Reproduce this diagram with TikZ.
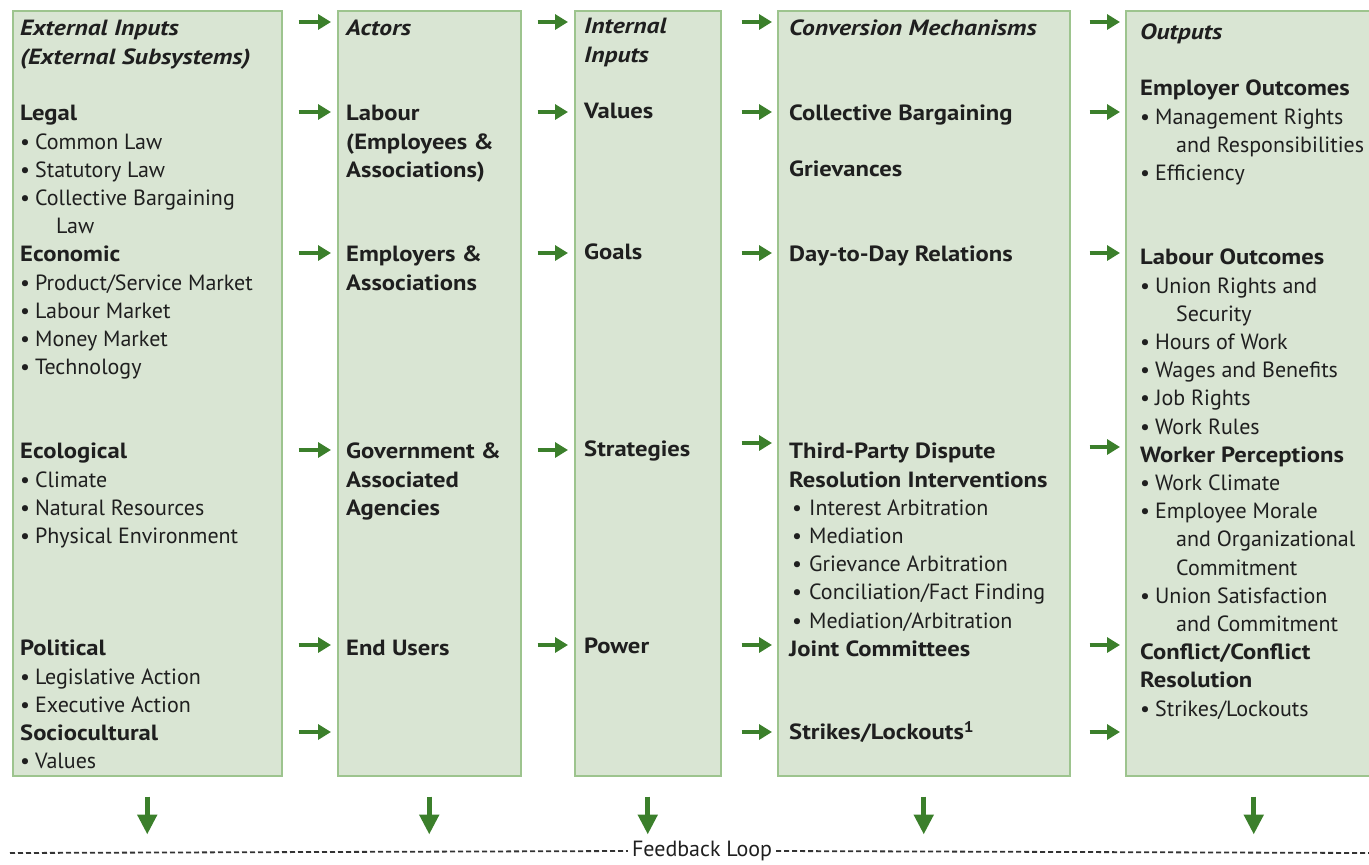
\documentclass[tikz,border=0pt]{standalone}
\usepackage{fontspec}
\setmainfont{PT Sans}[BoldFeatures={FakeStretch=1.12},BoldItalicFeatures={FakeStretch=1.16}]
\usetikzlibrary{arrows.meta,positioning}
\usepackage{xcolor}

\definecolor{boxfill}{HTML}{D9E5D3}
\definecolor{boxline}{HTML}{9DC48E}
\definecolor{arrowgreen}{HTML}{3B7F2B}

\newcommand{\txtfont}{\fontsize{22}{28.2}\selectfont}
\newcommand{\hd}[1]{\textbf{#1}}
\newcommand{\ttl}[1]{\textbf{\textit{#1}}}
\newcommand{\bl}{•\hspace{5pt}}
\newcommand{\wbl}{\hspace*{3pt}•\hspace{7pt}}
\newcommand{\cnt}{\hspace*{36pt}}

\begin{document}
\begin{tikzpicture}[x=1pt,y=-1pt]
\tikzstyle{column} = [
	shape=rectangle,
	draw=boxline, %border of the column
	fill=boxfill,
	line width=1.5pt,
	anchor=north west,
	inner sep=0pt,
	minimum height=765pt
];
\tikzstyle{txt} = [anchor=north west, inner sep=0pt, align=left, font=\txtfont, text=black!88];
\tikzstyle{flow} = [-{Triangle[length=13pt,width=15pt]}, line width=4pt, color=arrowgreen];
\tikzstyle{loopback} = [-{Triangle[length=20pt,width=19pt]}, line width=5pt, color=arrowgreen];
\tikzstyle{dashline} = [dash pattern=on 5pt off 3pt, line width=1.8pt, color=black!80];

\useasboundingbox (0,0) rectangle (1369,865);

%columns
\node[column, minimum width=269pt](inputs) at (12,10) {};
\node[column, minimum width=183pt](actors) at (337,10) {};
\node[column, minimum width=146pt](internal) at (574,10) {};
\node[column, minimum width=292pt](conversion) at (777,10) {};
\node[column, minimum width=256pt](outputs) at (1125,10) {};

%external inputs
\node[txt](extTitle) at (20,16) {\strut\ttl{External Inputs}\\\ttl{(External Subsystems)}};
\node[txt](legal) at (20,101) {\strut\hd{Legal}\\
	\bl Common Law\\
	\bl Statutory Law\\
	\bl Collective Bargaining\\
	\cnt Law\\
	\hd{Economic}\\
	\bl Product/Service Market\\
	\bl Labour Market\\
	\bl Money Market\\
	\bl Technology};
\node[txt](ecological) at (20,439) {\strut\hd{Ecological}\\
	\bl Climate\\
	\bl Natural Resources\\
	\bl Physical Environment};
\node[txt](political) at (20,636) {\strut\hd{Political}\\
	\bl Legislative Action\\
	\bl Executive Action\\
	\hd{Sociocultural}\\
	\bl Values};

%actors
\node[txt](actTitle) at (346,16) {\strut\ttl{Actors}};
\node[txt](labour) at (346,101) {\strut\hd{Labour}\\\hd{(Employees \&}\\\hd{Associations)}};
\node[txt](employers) at (346,242) {\strut\hd{Employers \&}\\\hd{Associations}};
\node[txt](government) at (346,439) {\strut\hd{Government \&}\\\hd{Associated}\\\hd{Agencies}};
\node[txt](endUsers) at (346,636) {\strut\hd{End Users}};

%internal inputs
\node[txt](intTitle) at (584,14) {\strut\ttl{Internal}\\\ttl{Inputs}};
\node[txt](values) at (584,99) {\strut\hd{Values}};
\node[txt](goals) at (584,240) {\strut\hd{Goals}};
\node[txt](strategies) at (584,437) {\strut\hd{Strategies}};
\node[txt](power) at (584,634) {\strut\hd{Power}};

%conversion mechanisms
\node[txt](convTitle) at (789,16) {\strut\ttl{Conversion Mechanisms}};
\node[txt](bargaining) at (789,101) {\strut\hd{Collective Bargaining}};
\node[txt](grievances) at (789,157) {\strut\hd{Grievances}};
\node[txt](dayToDay) at (789,242) {\strut\hd{Day-to-Day Relations}};
\node[txt](thirdParty) at (789,439) {\strut\hd{Third-Party Dispute}\\
	\hd{Resolution Interventions}\\
	\wbl Interest Arbitration\\
	\wbl Mediation\\
	\wbl Grievance Arbitration\\
	\wbl Conciliation/Fact Finding\\
	\wbl Mediation/Arbitration\\
	\hd{Joint Committees}};
\node[txt](strikes) at (789,720) {\strut\hd{Strikes/Lockouts\textsuperscript{1}}};

%outputs
\node[txt](outTitle) at (1140,20) {\strut\ttl{Outputs}};
\node[txt](employerOut) at (1140,76) {\strut\hd{Employer Outcomes}\\
	\bl Management Rights\\
	\cnt and Responsibilities\\
	\bl Efficiency};
\node[txt](labourOut) at (1140,245) {\strut\hd{Labour Outcomes}\\
	\bl Union Rights and\\
	\cnt Security\\
	\bl Hours of Work\\
	\bl Wages and Benefits\\
	\bl Job Rights\\
	\bl Work Rules\\
	\hd{Worker Perceptions}\\
	\bl Work Climate\\
	\bl Employee Morale\\
	\cnt and Organizational\\
	\cnt Commitment\\
	\bl Union Satisfaction\\
	\cnt and Commitment\\
	\hd{Conflict/Conflict}\\
	\hd{Resolution}\\
	\bl Strikes/Lockouts};

%arrows between the columns
\foreach \y in {22,112,253,450,645,732}
	\draw[flow] ([xshift=16pt]inputs.east |- 0,\y) -- ([xshift=-6pt]actors.west |- 0,\y);
\foreach \y in {22,112,253,450,645}
	\draw[flow] ([xshift=16pt]actors.east |- 0,\y) -- ([xshift=-6pt]internal.west |- 0,\y);
\foreach \y in {22,112,253,443,645,732}
	\draw[flow] ([xshift=20pt]internal.east |- 0,\y) -- ([xshift=-5pt]conversion.west |- 0,\y);
\foreach \y in {22,112,253,447,645,732}
	\draw[flow] ([xshift=19pt]conversion.east |- 0,\y) -- ([xshift=-5pt]outputs.west |- 0,\y);

%feedback loop
\foreach \col in {inputs,actors,internal,conversion,outputs}
	\draw[loopback] ([yshift=-20pt]\col.south) -- ([yshift=-58pt]\col.south);

\coordinate (fbLeft) at (10,853);
\coordinate (fbRight) at (1369,853);
\node[font=\txtfont, inner sep=4pt, text=black!88](loop) at (702,851) {Feedback Loop};
\draw[dashline] (fbLeft) -- (loop.west);
\draw[dashline] (loop.east) -- (fbRight);

\end{tikzpicture}
\end{document}
